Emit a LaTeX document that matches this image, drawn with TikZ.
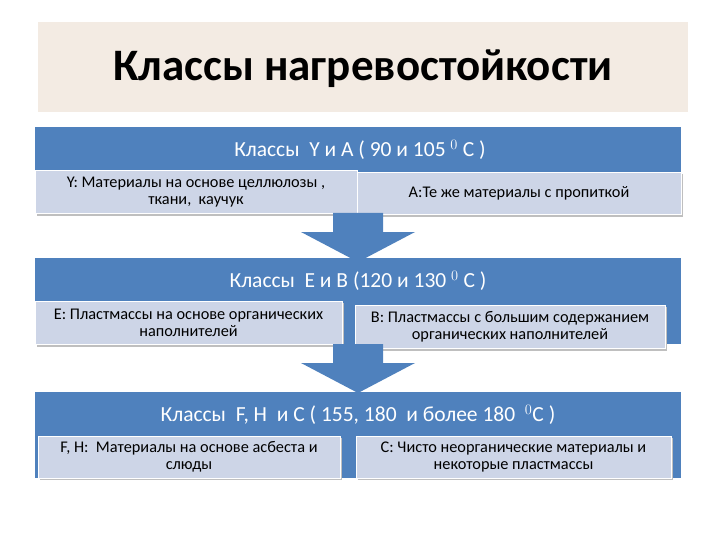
\documentclass[tikz,border=0pt]{standalone}
\usepackage{fontspec}
\setmainfont{Carlito}
\definecolor{hdr}{HTML}{4F81BD}
\definecolor{sub}{HTML}{CDD5E7}
\definecolor{ttl}{HTML}{F3EBE3}
\begin{document}
\begin{tikzpicture}[x=1pt,y=-1pt,
  subbox/.style={fill=sub,draw=white,line width=0.6pt,align=center,font=\fontsize{16.3}{17}\selectfont,inner sep=0pt},
  hdrtxt/.style={text=white,font=\fontsize{21.5}{23}\selectfont},
  shd/.style={fill=black!25,draw=none}]
\useasboundingbox (0,0) rectangle (720,540);
\fill[ttl] (38,22) rectangle (688,112);
\node[font=\bfseries\fontsize{45}{48}\selectfont] (title) at (363,69) {Классы нагревостойкости};
% level 1
\fill[hdr] (35,127) rectangle (681,213);
\node[hdrtxt] (h1) at (360,150) {Классы \ Y и A ( 90 и 105 $^{0}$ C )};
\fill[shd] (37,172) rectangle (359,216);
\node[subbox,minimum width=322pt,minimum height=43pt] (y) at (196,192) {Y: Материалы на основе целлюлозы ,\\ ткани, \ каучук};
\fill[shd] (359,174) rectangle (683,217);
\node[subbox,minimum width=324pt,minimum height=42pt] (a) at (519,193) {A:Те же материалы с пропиткой};
\fill[hdr] (333,213) -- (383,213) -- (383,232) -- (415,232) -- (358,262) -- (301,232) -- (333,232) -- cycle;
% level 2
\fill[hdr] (35,258) rectangle (681,344);
\node[hdrtxt] (h2) at (358,281) {Классы \ E и B (120 и 130 $^{0}$ C )};
\fill[shd] (37,303) rectangle (344,347);
\node[subbox,minimum width=307pt,minimum height=43pt] (e) at (188.5,322.5) {E: Пластмассы на основе органических\\ наполнителей};
\fill[shd] (357,307) rectangle (667,351);
\node[subbox,minimum width=310pt,minimum height=43pt] (b) at (510,326.5) {B: Пластмассы с большим содержанием\\ органических наполнителей};
\fill[hdr] (333,344) -- (383,344) -- (383,363) -- (415,363) -- (358,393) -- (301,363) -- (333,363) -- cycle;
% level 3
\fill[hdr] (35,392) rectangle (681,478);
\node[hdrtxt] (h3) at (358,415) {Классы \ F, H \ и C ( 155, 180 \ и более 180 \ $^{0}$C )};
\fill[shd] (40,438) rectangle (342,480);
\node[subbox,minimum width=302pt,minimum height=42pt] (f) at (189,457) {F, H: \ Материалы на основе асбеста и\\ слюды};
\fill[shd] (358,438) rectangle (673,480);
\node[subbox,minimum width=315pt,minimum height=42pt] (c) at (513.5,457) {C: Чисто неорганические материалы и\\ некоторые пластмассы};
\end{tikzpicture}
\end{document}
